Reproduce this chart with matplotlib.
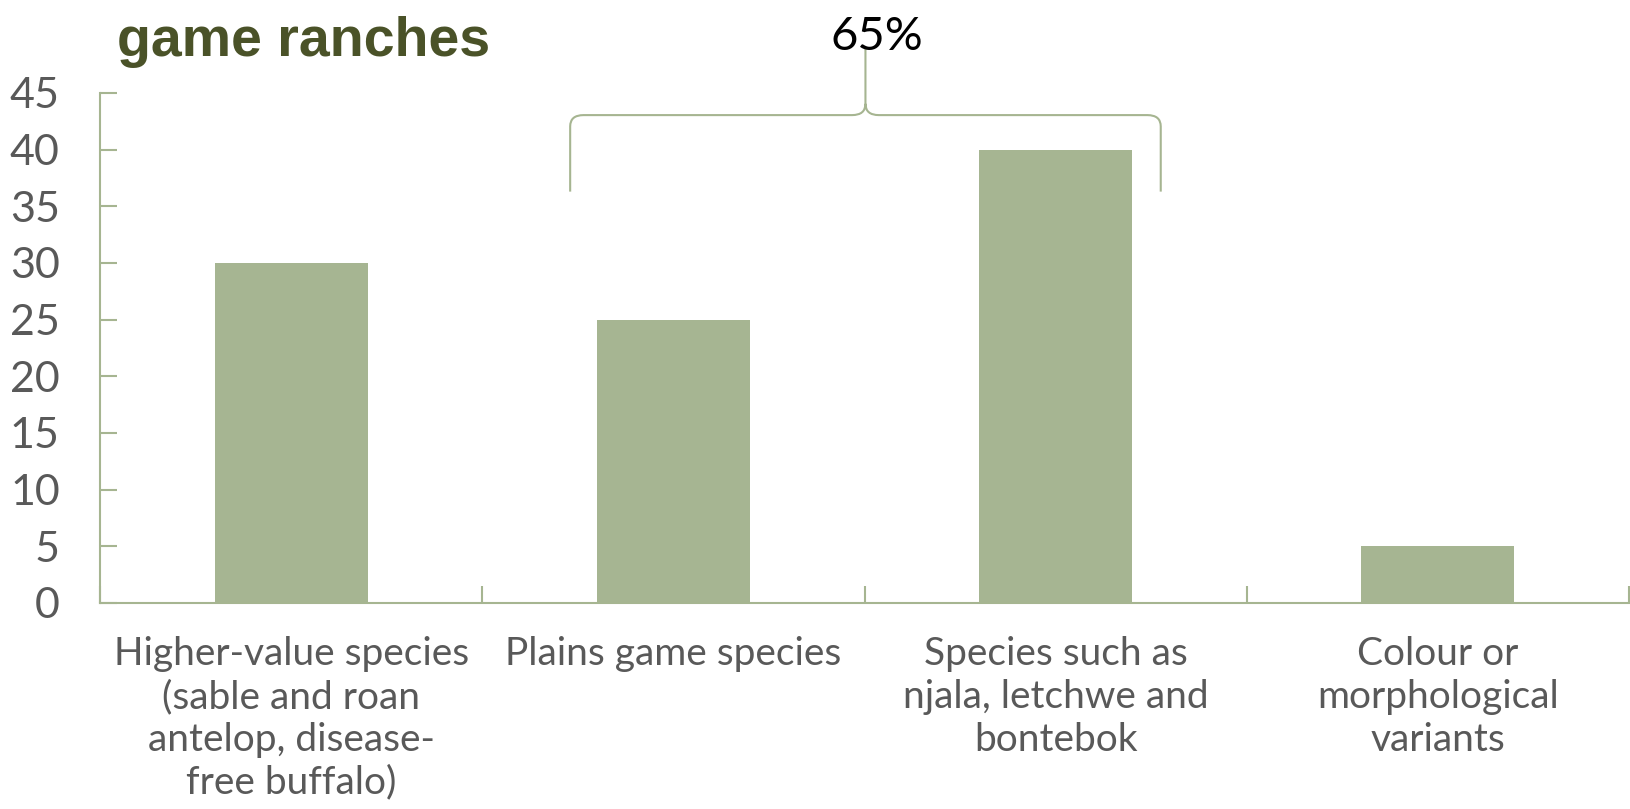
import matplotlib
matplotlib.use("Agg")
import matplotlib.pyplot as plt
import numpy as np
from matplotlib.path import Path
from matplotlib.patches import PathPatch

# chart data
categories = [
    "Higher-value species\n(sable and roan\nantelop, disease-\nfree buffalo)",
    "Plains game species",
    "Species such as\nnjala, letchwe and\nbontebok",
    "Colour or\nmorphological\nvariants",
]
values = [30, 25, 40, 5]
y_ticks = [0, 5, 10, 15, 20, 25, 30, 35, 40, 45]
brace_label = "65%"
brace_span = (1, 2)  # categories grouped by the brace
title_text = "game ranches"

barColor = "#A6B592"
axisColor = "#A6B591"
labelColor = "#595959"
labelFont = ["Lato", "DejaVu Sans"]

fig = plt.figure(figsize=(16.3, 8.09), dpi=100)
ax = fig.add_axes([100 / 1630, 1 - 603 / 809, 1529 / 1630, 510 / 809])

x = np.arange(len(categories))
ax.bar(x, values, width=0.4, color=barColor, zorder=2)

ax.set_xlim(-0.5, len(categories) - 0.5)
ax.set_ylim(0, 45)
ax.set_yticks(y_ticks)
ax.set_yticklabels([str(t) for t in y_ticks], fontsize=31, color=labelColor, family=labelFont)
ax.set_xticks(x)
ax.set_xticklabels(categories, fontsize=28, color=labelColor, family=labelFont, linespacing=1.23)
ax.set_xticks(np.arange(len(categories) + 1) - 0.5, minor=True)

ax.tick_params(axis="y", direction="in", length=12, width=1.5, color=axisColor, pad=29)
ax.tick_params(axis="x", which="major", length=0, pad=24)
ax.tick_params(axis="x", which="minor", direction="in", length=12, width=1.5, color=axisColor)

for side in ["top", "right"]:
    ax.spines[side].set_visible(False)
for side in ["left", "bottom"]:
    ax.spines[side].set_color(axisColor)
    ax.spines[side].set_linewidth(1.5)

# curly brace over the grouped categories
left = brace_span[0] - 0.27
right = brace_span[1] + 0.275
mid = (left + right) / 2
yBar = 43.05
yLeg = 36.3
yTop = 49.0
dx = 0.035
dy = 1.0
verts = [
    (left, yLeg), (left, yBar - dy), (left, yBar), (left + dx, yBar),
    (mid - dx, yBar), (mid, yBar), (mid, yBar + dy), (mid, yTop),
    (mid, yBar + dy), (mid, yBar), (mid + dx, yBar),
    (right - dx, yBar), (right, yBar), (right, yBar - dy), (right, yLeg),
]
codes = [
    Path.MOVETO, Path.LINETO, Path.CURVE3, Path.CURVE3,
    Path.LINETO, Path.CURVE3, Path.CURVE3, Path.LINETO,
    Path.MOVETO, Path.CURVE3, Path.CURVE3,
    Path.LINETO, Path.CURVE3, Path.CURVE3, Path.LINETO,
]
ax.add_patch(PathPatch(Path(verts, codes), fill=False, edgecolor=axisColor,
                       linewidth=1.5, clip_on=False, zorder=3))
ax.text(mid + 0.03, yTop - 0.2, brace_label, ha="center", va="baseline", fontsize=34,
        color="black", family=labelFont, clip_on=False)

fig.text(117 / 1630, 1 - 56 / 809, title_text, ha="left", va="baseline", fontsize=40,
         fontweight="bold", color="#4A5228", family=["Liberation Sans Narrow", "Liberation Sans"])

fig.savefig("out.png", dpi=100)
